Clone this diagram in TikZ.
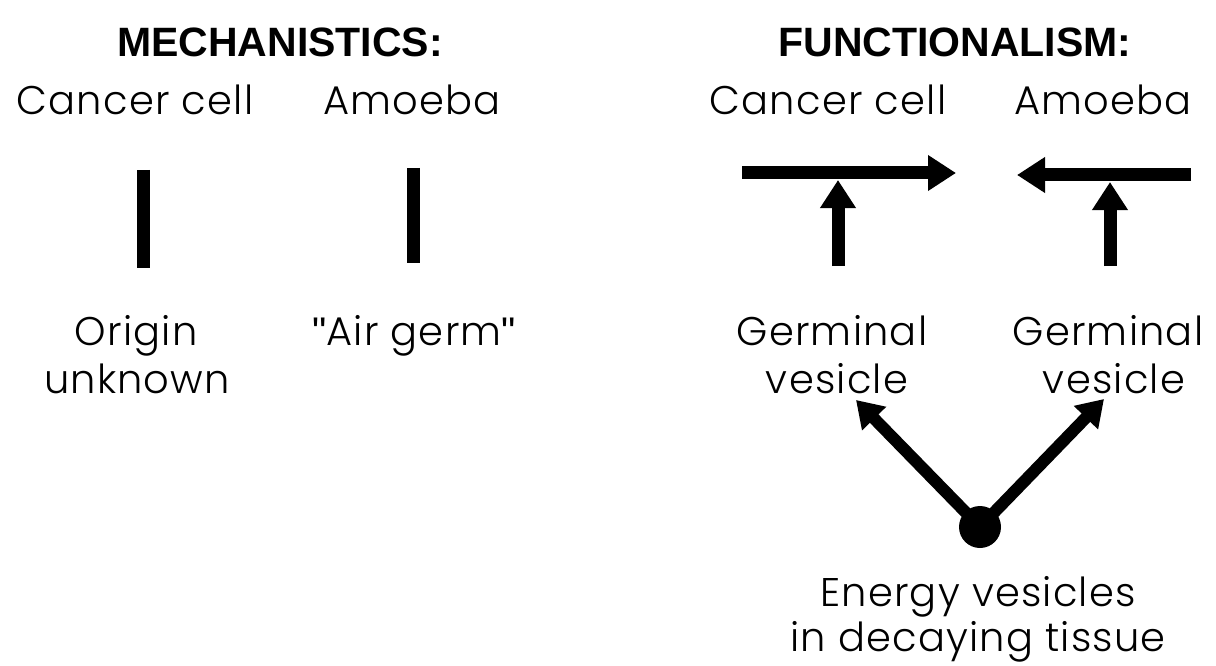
\documentclass[tikz,border=0pt]{standalone}
\usepackage{fontspec}
\setmainfont{Poppins Light}[LetterSpace=3]
\newfontfamily\headfont{Liberation Sans Bold}
\newfontfamily\qfont{Liberation Sans}
\newcommand{\sq}{{\qfont"}}
\usetikzlibrary{arrows.meta}
\begin{document}
\begin{tikzpicture}[x=1pt,y=-1pt,
  lbl/.style={inner sep=0pt,font=\fontsize{40}{48}\selectfont,align=center},
  head/.style={inner sep=0pt,font=\headfont\fontsize{41}{48}\selectfont},
  bar/.style={line width=13pt},
  bigarrow/.style={line width=13pt,-{Triangle[length=28pt,width=34pt]}},
  varrow/.style={line width=12pt,-{Triangle[length=26pt,width=32pt]}}]
\useasboundingbox (0,0) rectangle (1216,666);
% headings
\node[head] (mech) at (280,42) {MECHANISTICS:};
\node[head] (func) at (955,42) {FUNCTIONALISM:};
% left side
\node[lbl,anchor=base] (cc1) at (135,115) {Cancer cell};
\node[lbl,anchor=base] (am1) at (412,115) {Amoeba};
\node[lbl,anchor=base] (or1) at (136,345) {Origin};
\node[lbl,anchor=base] (un1) at (137,393) {unknown};
\node[lbl,anchor=base] (ag1) at (414,345) {\sq Air germ\sq};
\coordinate (b1t) at (143,170);
\coordinate (b1b) at (143,268);
\coordinate (b2t) at (413,168);
\coordinate (b2b) at (413,263);
\draw[bar] (b1t) -- (b1b);
\draw[bar] (b2t) -- (b2b);
% right side
\node[lbl,anchor=base] (cc2) at (828,115) {Cancer cell};
\node[lbl,anchor=base] (am2) at (1103,115) {Amoeba};
\node[lbl,anchor=base] (ge1) at (832,345) {Germinal};
\node[lbl,anchor=base] (ve1) at (837,393) {vesicle};
\node[lbl,anchor=base] (ge2) at (1108,345) {Germinal};
\node[lbl,anchor=base] (ve2) at (1114,393) {vesicle};
\node[lbl,anchor=base] (en) at (978,606) {Energy vesicles};
\node[lbl,anchor=base] (dt) at (978,651) {in decaying tissue};
\coordinate (h1s) at (742,173);
\coordinate (h1e) at (956,173);
\coordinate (h2s) at (1191,175);
\coordinate (h2e) at (1017,175);
\draw[bigarrow] (h1s) -- (h1e);
\draw[bigarrow] (h2s) -- (h2e);
\coordinate (u1s) at (838,266);
\coordinate (u1e) at (838,180);
\coordinate (u2s) at (1110,266);
\coordinate (u2e) at (1110,182);
\draw[bigarrow] (u1s) -- (u1e);
\draw[bigarrow] (u2s) -- (u2e);
\node[circle,fill=black,minimum size=42pt,inner sep=0pt] (dot) at (980,527) {};
\coordinate (t1) at (856,400);
\coordinate (t2) at (1104,399);
\draw[varrow] (dot.center) -- (t1);
\draw[varrow] (dot.center) -- (t2);
\end{tikzpicture}
\end{document}
